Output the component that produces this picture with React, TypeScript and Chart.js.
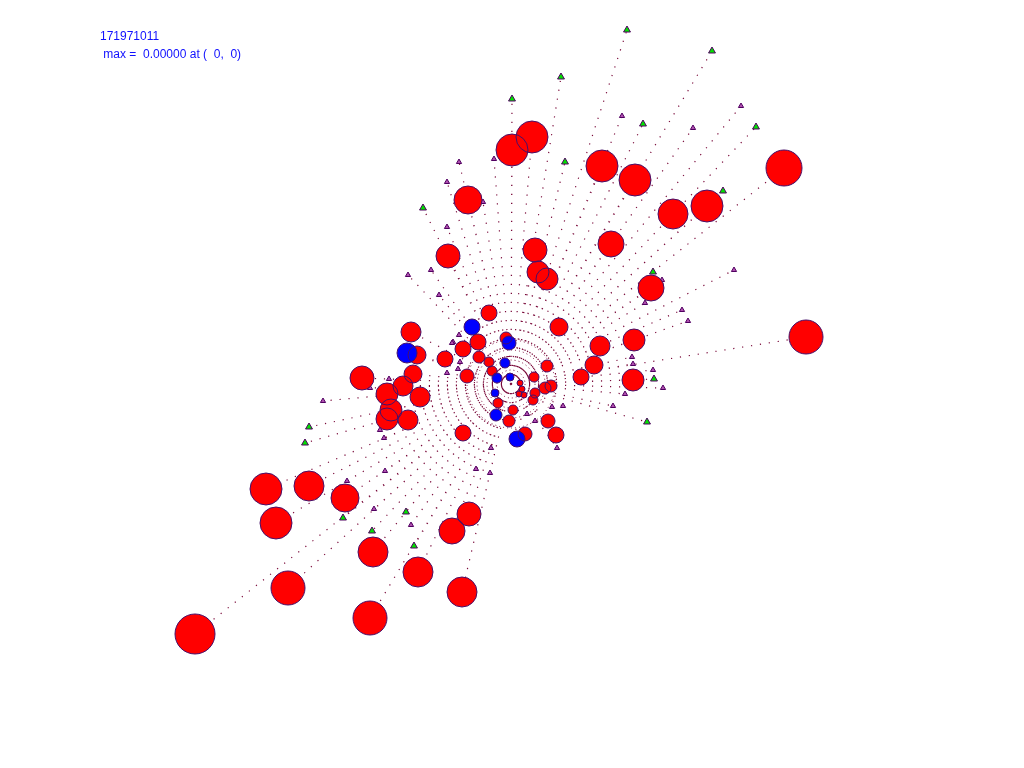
import React, { useEffect, useRef } from "react";
import { Chart, registerables } from "chart.js";

Chart.register(...registerables);

const titleText = "171971011";
const subText = " max =  0.00000 at (  0,  0)";

const centerPoint = { x: 511, y: 384 };

// red circles: [x, y, radius]
const redCircles: number[][] = [
  [195, 634, 20], [288, 588, 17], [370, 618, 17], [462, 592, 15], [418, 572, 15], [373, 552, 15],
  [276, 523, 16], [266, 489, 16], [309, 486, 15], [345, 498, 14], [452, 531, 13], [469, 514, 12],
  [784, 168, 18], [806, 337, 17], [707, 206, 16], [673, 214, 15], [635, 180, 16], [602, 166, 16],
  [532, 137, 16], [512, 150, 16], [468, 200, 14], [448, 256, 12], [535, 250, 12], [538, 272, 11],
  [547, 279, 11], [611, 244, 13], [651, 288, 13], [634, 340, 11], [633, 380, 11], [600, 346, 10],
  [594, 365, 9], [581, 377, 8], [559, 327, 9], [489, 313, 8], [411, 332, 10], [417, 355, 9],
  [362, 378, 12], [387, 394, 11], [403, 386, 10], [413, 374, 9], [420, 397, 10], [391, 410, 11],
  [387, 419, 11], [408, 420, 10], [445, 359, 8], [463, 433, 8], [525, 434, 7], [556, 435, 8],
  [548, 421, 7], [467, 376, 7], [463, 349, 8], [478, 342, 8], [479, 357, 6], [489, 362, 5],
  [506, 338, 6], [547, 366, 6], [534, 377, 5], [492, 371, 5], [498, 403, 5], [513, 410, 5],
  [509, 421, 6], [520, 383, 3], [522, 389, 3], [519, 394, 3], [524, 395, 3], [535, 393, 5],
  [533, 400, 5], [545, 388, 6], [551, 386, 6],
];

// blue circles: [x, y, radius]
const blueCircles: number[][] = [
  [407, 353, 10], [472, 327, 8], [509, 343, 7], [505, 363, 5], [497, 378, 5],
  [510, 377, 4], [495, 393, 4], [496, 415, 6], [517, 439, 8],
];

// larger triangles: [x, y]
const bigTriangles: number[][] = [
  [627, 30], [712, 51], [561, 77], [512, 99], [643, 124], [756, 127], [723, 191], [423, 208],
  [653, 272], [309, 427], [305, 443], [343, 518], [406, 512], [414, 546], [647, 422], [654, 379],
  [565, 162], [372, 531],
];

// smaller triangles: [x, y]
const smallTriangles: number[][] = [
  [622, 116], [693, 128], [741, 106], [459, 162], [494, 159], [447, 182], [447, 227], [483, 202],
  [431, 270], [408, 275], [439, 295], [734, 270], [645, 303], [682, 310], [688, 321], [662, 280],
  [632, 357], [633, 364], [653, 370], [663, 388], [625, 394], [613, 406], [563, 406], [552, 407],
  [527, 414], [535, 421], [557, 448], [323, 401], [389, 379], [370, 388], [380, 430], [384, 438],
  [453, 342], [459, 335], [458, 369], [447, 373], [347, 481], [385, 471], [374, 509], [411, 525],
  [476, 469], [490, 473], [491, 448], [460, 362], [452, 343],
];

const ringRadii = [14, 24, 34, 44];

const DOT = "#7a0a3a";
const OUTLINE = "#45106a";

const ringsPlugin = {
  id: "rings",
  beforeDatasetsDraw(chart: any) {
    const { ctx, scales } = chart;
    const cx = scales.x.getPixelForValue(centerPoint.x);
    const cy = scales.y.getPixelForValue(centerPoint.y);
    ctx.save();
    ctx.strokeStyle = DOT;
    ctx.lineWidth = 1;
    ctx.setLineDash([1, 3]);
    ringRadii.forEach((r) => {
      const pr = Math.abs(scales.x.getPixelForValue(centerPoint.x + r) - cx);
      ctx.beginPath();
      ctx.arc(cx, cy, pr, 0, Math.PI * 2);
      ctx.stroke();
    });
    ctx.restore();
  },
};

export default function App() {
  const ref = useRef<HTMLCanvasElement | null>(null);

  useEffect(() => {
    if (!ref.current) return;
    const targets = [...bigTriangles, ...smallTriangles, ...redCircles, ...blueCircles];
    const rayData: any[] = [];
    targets.forEach((p) => {
      rayData.push({ x: centerPoint.x, y: centerPoint.y });
      rayData.push({ x: p[0], y: p[1] });
      rayData.push({ x: NaN, y: NaN });
    });
    const toBubble = (arr: number[][]) => arr.map((c) => ({ x: c[0], y: c[1], r: c[2] }));
    const toPt = (arr: number[][]) => arr.map((c) => ({ x: c[0], y: c[1] }));

    const chart = new Chart(ref.current, {
      type: "scatter",
      data: {
        datasets: [
          {
            type: "bubble",
            data: toBubble([...redCircles, ...blueCircles]) as any,
            backgroundColor: "rgba(0,0,0,0)",
            borderColor: OUTLINE,
            borderWidth: 1,
            hoverRadius: 0,
          } as any,
          {
            type: "bubble",
            data: toBubble(blueCircles) as any,
            backgroundColor: "#0000ff",
            borderWidth: 0,
          } as any,
          {
            type: "bubble",
            data: toBubble(redCircles) as any,
            backgroundColor: "#ff0000",
            borderWidth: 0,
          } as any,
          {
            data: toPt(bigTriangles),
            pointStyle: "triangle",
            pointRadius: 4,
            backgroundColor: "#00e000",
            borderColor: "#500060",
            borderWidth: 1,
          },
          {
            data: toPt(smallTriangles),
            pointStyle: "triangle",
            pointRadius: 3,
            backgroundColor: "#b050b0",
            borderColor: "#500060",
            borderWidth: 1,
          },
          {
            type: "line",
            data: rayData,
            showLine: true,
            spanGaps: false,
            borderColor: DOT,
            borderWidth: 1.2,
            borderDash: [1.2, 7.8],
            pointRadius: 0,
            fill: false,
          } as any,
        ],
      },
      options: {
        responsive: false,
        animation: false,
        devicePixelRatio: 1,
        layout: { padding: 0, autoPadding: false },
        plugins: { legend: { display: false }, tooltip: { enabled: false } },
        events: [],
        scales: {
          x: { type: "linear", min: 0, max: 1024, display: false },
          y: { type: "linear", min: 0, max: 768, reverse: true, display: false },
        },
      },
      plugins: [ringsPlugin],
    });
    return () => chart.destroy();
  }, []);

  const textStyle: React.CSSProperties = {
    position: "absolute",
    fontFamily: "'Liberation Sans', Arial, sans-serif",
    fontSize: "12px",
    lineHeight: "14px",
    color: "#1010ff",
    whiteSpace: "pre",
  };

  return (
    <div style={{ position: "absolute", left: 0, top: 0, width: 1024, height: 768, background: "#fff" }}>
      <canvas ref={ref} width={1024} height={768} style={{ position: "absolute", left: 0, top: 0 }} />
      <div style={{ ...textStyle, left: 100, top: 29 }}>{titleText}</div>
      <div style={{ ...textStyle, left: 100, top: 47 }}>{subText}</div>
    </div>
  );
}
